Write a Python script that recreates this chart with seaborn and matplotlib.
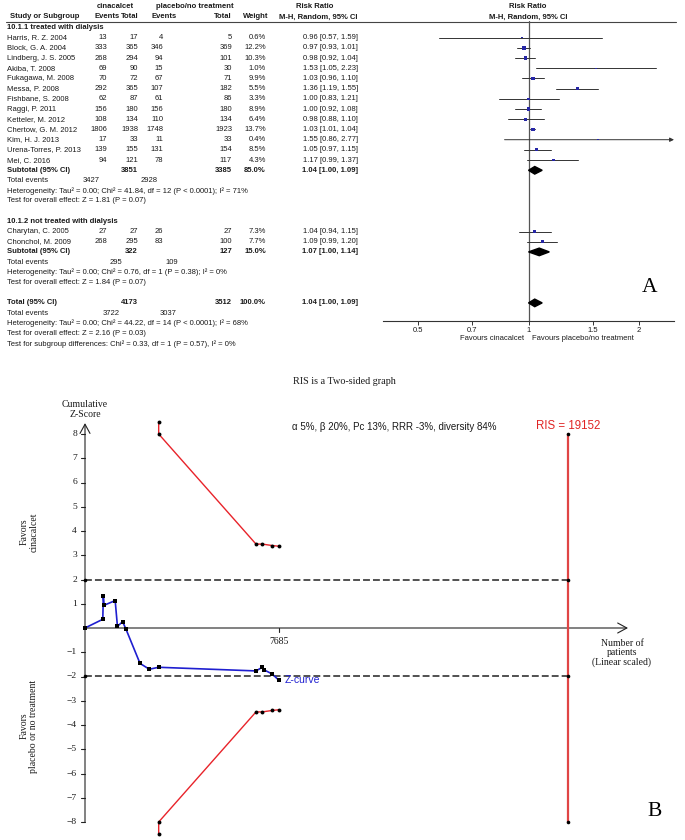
import matplotlib
matplotlib.use("Agg")
import matplotlib.pyplot as plt
from matplotlib import font_manager
from matplotlib.patches import Polygon
from matplotlib.ticker import NullLocator
import seaborn as sns

# ---------------- panel A : forest plot data ----------------
studies = ["Harris, R. Z. 2004", "Block, G. A. 2004", "Lindberg, J. S. 2005", "Akiba, T. 2008",
           "Fukagawa, M. 2008", "Messa, P. 2008", "Fishbane, S. 2008", "Raggi, P. 2011",
           "Ketteler, M. 2012", "Chertow, G. M. 2012", "Kim, H. J. 2013", "Urena-Torres, P. 2013",
           "Mei, C. 2016", "Charytan, C. 2005", "Chonchol, M. 2009"]
cin_events = [13, 333, 268, 69, 70, 292, 62, 156, 108, 1806, 17, 139, 94, 27, 268]
cin_total = [17, 365, 294, 90, 72, 365, 87, 180, 134, 1938, 33, 155, 121, 27, 295]
pla_events = [4, 346, 94, 15, 67, 107, 61, 156, 110, 1748, 11, 131, 78, 26, 83]
pla_total = [5, 369, 101, 30, 71, 182, 86, 180, 134, 1923, 33, 154, 117, 27, 100]
weights = [0.6, 12.2, 10.3, 1.0, 9.9, 5.5, 3.3, 8.9, 6.4, 13.7, 0.4, 8.5, 4.3, 7.3, 7.7]
rr = [0.96, 0.97, 0.98, 1.53, 1.03, 1.36, 1.00, 1.00, 0.98, 1.03, 1.55, 1.05, 1.17, 1.04, 1.09]
rr_lo = [0.57, 0.93, 0.92, 1.05, 0.96, 1.19, 0.83, 0.92, 0.88, 1.01, 0.86, 0.97, 0.99, 0.94, 0.99]
rr_hi = [1.59, 1.01, 1.04, 2.23, 1.10, 1.55, 1.21, 1.08, 1.10, 1.04, 2.77, 1.15, 1.37, 1.15, 1.20]

group_titles = ["10.1.1 treated with dialysis", "10.1.2 not treated with dialysis"]
pooled_labels = ["Subtotal (95% CI)", "Subtotal (95% CI)", "Total (95% CI)"]
pooled_cin_total = [3851, 322, 4173]
pooled_pla_total = [3385, 127, 3512]
pooled_weight = ["85.0%", "15.0%", "100.0%"]
pooled_rr = [1.04, 1.07, 1.04]
pooled_lo = [1.00, 1.00, 1.00]
pooled_hi = [1.09, 1.14, 1.09]
pooled_cin_events = [3427, 295, 3722]
pooled_pla_events = [2928, 109, 3037]
heterogeneity = ["Heterogeneity: Tau\u00b2 = 0.00; Chi\u00b2 = 41.84, df = 12 (P < 0.0001); I\u00b2 = 71%",
                 "Heterogeneity: Tau\u00b2 = 0.00; Chi\u00b2 = 0.76, df = 1 (P = 0.38); I\u00b2 = 0%",
                 "Heterogeneity: Tau\u00b2 = 0.00; Chi\u00b2 = 44.22, df = 14 (P < 0.0001); I\u00b2 = 68%"]
overall_effect = ["Test for overall effect: Z = 1.81 (P = 0.07)",
                  "Test for overall effect: Z = 1.84 (P = 0.07)",
                  "Test for overall effect: Z = 2.16 (P = 0.03)"]
subgroup_test = "Test for subgroup differences: Chi\u00b2 = 0.33, df = 1 (P = 0.57), I\u00b2 = 0%"
rr_ticks = [0.5, 0.7, 1, 1.5, 2]

# ---------------- panel B : trial sequential analysis data ----------------
z_patients = [0, 705, 725, 760, 1195, 1285, 1490, 1624, 2179, 2547, 2919,
              6774, 7023, 7102, 7419, 7685]
z_scores = [0, 0.36, 1.31, 0.94, 1.13, 0.07, 0.26, -0.05, -1.46, -1.70, -1.62,
            -1.77, -1.62, -1.73, -1.90, -2.16]
bound_patients = [2919, 2919, 6774, 7023, 7419, 7685]
bound_upper = [8.49, 8.0, 3.46, 3.46, 3.40, 3.37]
bound_lower = [-8.49, -8.0, -3.46, -3.46, -3.40, -3.37]
ris = 19152
total_patients = 7685
z_crit = 1.96
z_tick_values = [8, 7, 6, 5, 4, 3, 2, 1, -1, -2, -3, -4, -5, -6, -7, -8]

sns.set_theme(style="white")
plt.rcParams['font.family'] = ['Liberation Sans', 'DejaVu Sans']

names = {f.name for f in font_manager.fontManager.ttflist}
if 'Liberation Sans Narrow' in names:
    tfont, tsize = ['Liberation Sans Narrow', 'Liberation Sans', 'DejaVu Sans'], 6.8
else:
    tfont, tsize = ['Liberation Sans', 'DejaVu Sans'], 5.5
serif = ['Liberation Serif', 'DejaVu Serif']
ink = '#1a1a1a'

fig = plt.figure(figsize=(6.85, 8.4), dpi=100)
fig.patch.set_facecolor('white')

# full-figure axes in pixel units for the table text
ax = fig.add_axes([0, 0, 1, 1])
ax.set_xlim(0, 685)
ax.set_ylim(840, 0)
ax.axis('off')


def txt(x, y, s, ha='left', bold=False, **kw):
    ax.text(x, y, s, ha=ha, va='center', family=tfont, fontsize=tsize,
            fontweight='bold' if bold else 'normal', color=ink, **kw)


# row positions (pixel rows)
def row(i):
    return 27.5 + 10.2 * i

study_rows = [row(i) for i in range(1, 14)] + [row(20), row(21)]
pooled_rows = [row(14), row(22), row(27)]
title_rows = [row(0), row(19)]
events_rows = [row(15), row(23), row(28)]
het_rows = [row(16), row(24), row(29)]
eff_rows = [row(17), row(25), row(30)]
LX = 7

# header
txt(115, 7, "cinacalcet", ha='center', bold=True)
txt(195, 7, "placebo/no treatment", ha='center', bold=True)
txt(315, 7, "Risk Ratio", ha='center', bold=True)
txt(528, 7, "Risk Ratio", ha='center', bold=True)
txt(LX + 3, 17, "Study or Subgroup", bold=True)
txt(120, 17, "Events", ha='right', bold=True)
txt(139, 17, "Total", ha='right', bold=True)
txt(177, 17, "Events", ha='right', bold=True)
txt(232, 17, "Total", ha='right', bold=True)
txt(268, 17, "Weight", ha='right', bold=True)
txt(318, 17, "M-H, Random, 95% CI", ha='center', bold=True)
txt(528, 17, "M-H, Random, 95% CI", ha='center', bold=True)
ax.plot([6, 676], [21.5, 21.5], color='#444', lw=0.8)

for t, y in zip(group_titles, title_rows):
    txt(LX, y, t, bold=True)

for i, y in enumerate(study_rows):
    txt(LX, y, studies[i])
    txt(107, y, str(cin_events[i]), ha='right')
    txt(138, y, str(cin_total[i]), ha='right')
    txt(163, y, str(pla_events[i]), ha='right')
    txt(232, y, str(pla_total[i]), ha='right')
    txt(266, y, f"{weights[i]:.1f}%", ha='right')
    txt(358, y, f"{rr[i]:.2f} [{rr_lo[i]:.2f}, {rr_hi[i]:.2f}]", ha='right')

ev_x = [(100, 158), (122, 178), (120, 177)]
for k in range(3):
    y = pooled_rows[k]
    txt(LX, y, pooled_labels[k], bold=True)
    txt(138, y, str(pooled_cin_total[k]), ha='right', bold=True)
    txt(232, y, str(pooled_pla_total[k]), ha='right', bold=True)
    txt(266, y, pooled_weight[k], ha='right', bold=True)
    txt(358, y, f"{pooled_rr[k]:.2f} [{pooled_lo[k]:.2f}, {pooled_hi[k]:.2f}]", ha='right', bold=True)
    txt(LX, events_rows[k], "Total events")
    txt(ev_x[k][0], events_rows[k], str(pooled_cin_events[k]), ha='right')
    txt(ev_x[k][1], events_rows[k], str(pooled_pla_events[k]), ha='right')
    txt(LX, het_rows[k], heterogeneity[k])
    txt(LX, eff_rows[k], overall_effect[k])
txt(LX, row(31), subgroup_test)

# forest axes: x from px 383 to 674, y rows 21..321
axf = fig.add_axes([383 / 685, 1 - 321 / 840, (674 - 383) / 685, 300 / 840])
axf.set_facecolor('none')
axf.set_xscale('log')
axf.set_xlim(0.4, 2.5)
axf.set_ylim(321, 21)
for s in ['top', 'left', 'right']:
    axf.spines[s].set_visible(False)
axf.spines['bottom'].set_color('#333')
axf.spines['bottom'].set_linewidth(0.8)
axf.set_xticks(rr_ticks)
axf.set_xticklabels([str(v) for v in rr_ticks], family=tfont, fontsize=tsize, color=ink)
axf.xaxis.set_minor_locator(NullLocator())
axf.tick_params(axis='x', bottom=True, direction='out', length=3, width=0.7, pad=1.5, color='#333')
axf.set_yticks([])
axf.axvline(1, color='#555', lw=0.9, zorder=1)

for i, y in enumerate(study_rows):
    if rr_hi[i] > 2.5:
        axf.annotate("", xy=(2.5, y), xytext=(rr_lo[i], y), annotation_clip=False,
                     arrowprops=dict(arrowstyle='-|>', lw=0.7, color='#333',
                                     mutation_scale=6, shrinkA=0, shrinkB=0))
    else:
        axf.plot([rr_lo[i], rr_hi[i]], [y, y], color='#333', lw=0.7, zorder=2)
sns.scatterplot(x=rr, y=study_rows, size=weights, sizes=(1.0, 8), marker='s',
                color='#2626a6', linewidth=0, legend=False, ax=axf, zorder=3)
for k in range(3):
    y = pooled_rows[k]
    h = 3.8
    axf.add_patch(Polygon([(pooled_lo[k], y), (pooled_rr[k], y - h), (pooled_hi[k], y),
                           (pooled_rr[k], y + h)], closed=True, color='black', zorder=4))
axf.set_xlabel("")
axf.set_ylabel("")

txt(524, 338, "Favours cinacalcet", ha='right')
txt(532, 338, "Favours placebo/no treatment")
ax.text(650, 287, "A", ha='center', va='center', family=serif, fontsize=15.5, color='black')

# ---------------- panel B ----------------
PX = 7685 / 194      # patients per pixel
ZU = 24.25           # pixels per z unit
axb = fig.add_axes([0, 0, 1, 480 / 840])
axb.set_facecolor('none')
axb.set_xlim(-85 * PX, 600 * PX)
axb.set_ylim(-(840 - 628) / ZU, (628 - 360) / ZU)
axb.axis('off')

arrow = dict(arrowstyle='->,head_length=0.55,head_width=0.3', lw=0.8, color='#222',
             mutation_scale=12, shrinkA=0, shrinkB=0)
axb.annotate("", xy=(21510, 0), xytext=(0, 0), arrowprops=arrow, annotation_clip=False)
axb.annotate("", xy=(0, 8.45), xytext=(0, -8), arrowprops=arrow, annotation_clip=False)
for z in z_tick_values:
    axb.plot([-4 * PX, 0], [z, z], color='#222', lw=0.8)
    lab = str(z) if z > 0 else "\u2212" + str(-z)
    axb.text(-8 * PX, z, lab, ha='right', va='center', family=serif, fontsize=6.8, color=ink)
axb.plot([total_patients, total_patients], [0, -0.15], color='#222', lw=0.8)
axb.text(total_patients, -0.55, str(total_patients), ha='center', va='center',
         family=serif, fontsize=7, color=ink)

for zc in (z_crit, -z_crit):
    axb.plot([0, ris], [zc, zc], color='#222', lw=1.1, ls=(0, (4.5, 2)))
    axb.plot([0, ris], [zc, zc], ls='none', marker='o', ms=2.6, mew=0, color='black', zorder=6)
axb.plot([ris, ris], [-8, 8], color='#e04545', lw=1.6, zorder=4)
axb.plot([ris, ris], [-8, 8], ls='none', marker='o', ms=2.6, mew=0, color='black', zorder=6)

for bz in (bound_upper, bound_lower):
    sns.lineplot(x=bound_patients, y=bz, sort=False, estimator=None, color='#e8232a',
                 lw=1.0, marker='o', markersize=2.8, markerfacecolor='black',
                 markeredgewidth=0, ax=axb, zorder=5)
sns.lineplot(x=z_patients, y=z_scores, sort=False, estimator=None, color='#1f1fd0',
             lw=1.2, marker='s', markersize=2.6, markerfacecolor='black',
             markeredgewidth=0, ax=axb, zorder=5)
axb.text(total_patients + 6 * PX, z_scores[-1], "Z-curve", ha='left', va='center',
         color='#1f1fd0', fontsize=7.5)
axb.set_xlabel("")
axb.set_ylabel("")
axb.axis('off')

ax.text(344, 381, "RIS is a Two-sided graph", ha='center', va='center', family=serif,
        fontsize=7.3, color=ink)
ax.text(85, 409.5, "Cumulative\nZ-Score", ha='center', va='center', family=serif,
        fontsize=7, color=ink, linespacing=1.15)
ax.text(292, 427, "\u03b1 5%, \u03b2 20%, Pc 13%, RRR -3%, diversity 84%", ha='left',
        va='center', fontsize=7, color=ink)
ax.text(568, 426, "RIS = 19152", ha='center', va='center', fontsize=8.3, color='#e02424')
ax.text(29, 532, "Favors\ncinacalcet", ha='center', va='center', rotation=90,
        family=serif, fontsize=7, color=ink, linespacing=1.1)
ax.text(29, 726, "Favors\nplacebo or no treatment", ha='center', va='center', rotation=90,
        family=serif, fontsize=7, color=ink, linespacing=1.1)
ax.text(622, 653, "Number of\npatients\n(Linear scaled)", ha='center', va='center',
        family=serif, fontsize=7, color=ink, linespacing=1.05)
ax.text(655, 812, "B", ha='center', va='center', family=serif, fontsize=15.5, color='black')

fig.savefig("out.png", dpi=100, facecolor='white')
